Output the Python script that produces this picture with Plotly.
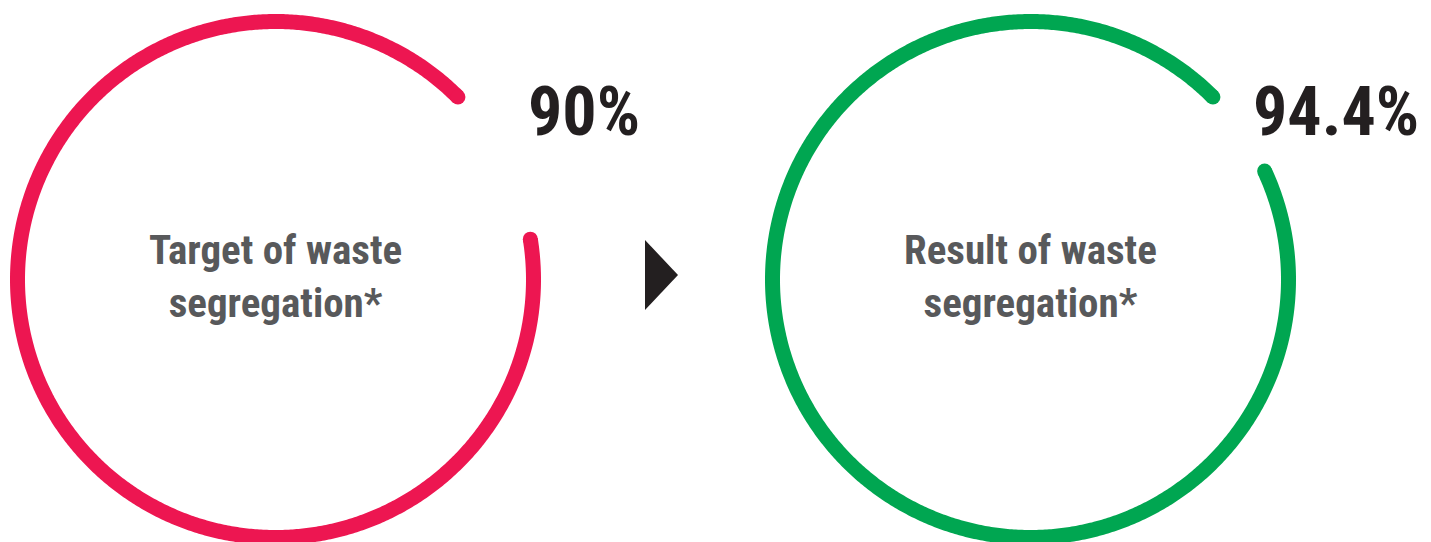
import numpy as np
import plotly.graph_objects as go

labels = ["Target of waste<br>segregation*", "Result of waste<br>segregation*"]
values = [90.0, 94.4]
value_text = ["90%", "94.4%"]
colors = ["#ed1651", "#00a651"]

W, H = 1431, 542
FONT = "Roboto Condensed, Roboto, sans-serif"

centers_x = [275.5, 1030.5]
center_y = 279.5          # from top, in pixels
radius = 258
line_w = 15
start_deg = 45

fig = go.Figure()
for i, (v, c) in enumerate(zip(values, colors)):
    ang = np.deg2rad(np.linspace(start_deg, start_deg + v / 100 * 360, 720))
    x = centers_x[i] + radius * np.cos(ang)
    y = (H - center_y) + radius * np.sin(ang)
    fig.add_trace(go.Scatter(x=x, y=y, mode="lines",
                             line=dict(color=c, width=line_w, simplify=False),
                             hoverinfo="skip", showlegend=False, cliponaxis=False))
    fig.add_trace(go.Scatter(x=[x[0], x[-1]], y=[y[0], y[-1]], mode="markers",
                             marker=dict(color=c, size=line_w, line=dict(width=0)),
                             hoverinfo="skip", showlegend=False, cliponaxis=False))

annotations = []
value_x = [526, 1251]
for i in range(2):
    annotations.append(dict(
        x=value_x[i], y=H - 112, xref="x", yref="y",
        xanchor="left", yanchor="middle", text="<b>%s</b>" % value_text[i],
        showarrow=False, font=dict(family=FONT, size=68, color="#231f20")))
    annotations.append(dict(
        x=centers_x[i], y=H - 276, xref="x", yref="y",
        xanchor="center", yanchor="middle", align="center",
        text="<b>%s</b>" % labels[i],
        showarrow=False, font=dict(family=FONT, size=41, color="#58595b")))

fig.update_layout(
    width=W, height=H,
    margin=dict(l=0, r=0, t=0, b=0),
    paper_bgcolor="white", plot_bgcolor="white",
    xaxis=dict(range=[0, W], visible=False, fixedrange=True),
    yaxis=dict(range=[0, H], visible=False, fixedrange=True),
    annotations=annotations,
    shapes=[dict(type="path", xref="x", yref="y",
                 path="M 645,%f L 678,%f L 645,%f Z" % (H - 240, H - 275, H - 310),
                 fillcolor="#231f20", line=dict(width=0))],
)

fig.write_html("out.html", config={"displayModeBar": False},
               post_script="document.body.style.margin='0';document.body.style.overflow='hidden';")
